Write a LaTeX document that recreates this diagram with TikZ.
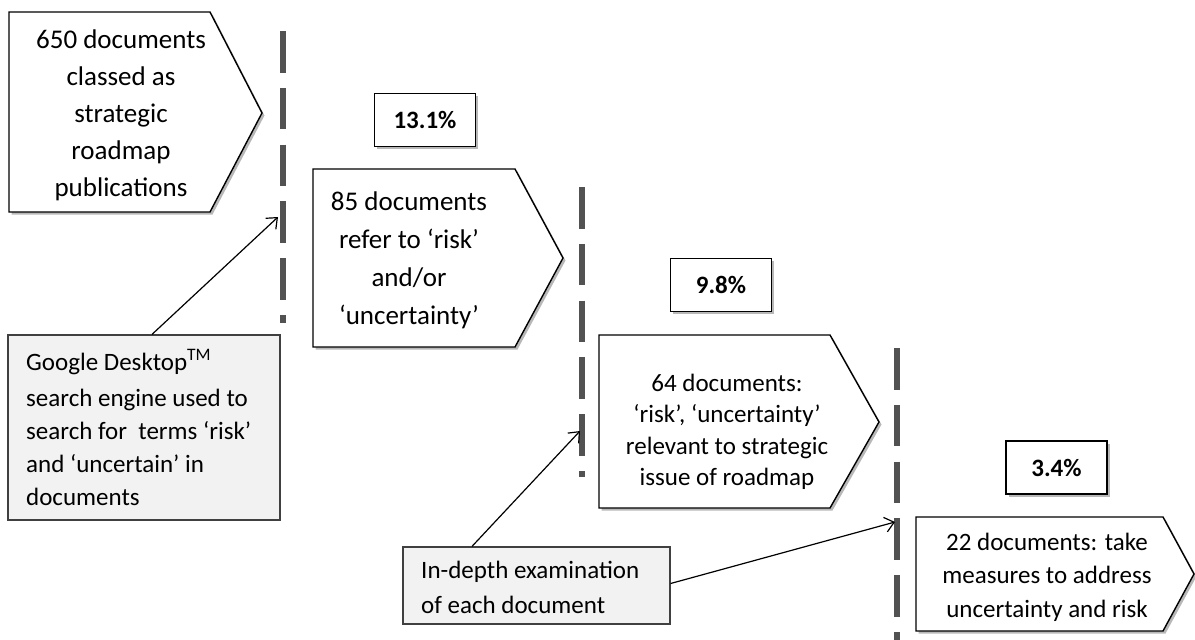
\documentclass[tikz,border=0pt]{standalone}
\usepackage{fontspec}
\setmainfont{Carlito}
\usetikzlibrary{arrows.meta,shadows}
\begin{document}
\begin{tikzpicture}[x=1pt,y=-1pt,
  softshadow/.style={drop shadow={shadow xshift=2.5pt, shadow yshift=-2.5pt, fill=black, opacity=0.28}},
  chevron/.style={draw=black, line width=1.4pt, fill=white, line join=miter, softshadow},
  chevtext/.style={align=center, anchor=base, inner sep=0pt},
  bigtext/.style={font=\fontsize{27}{37}\selectfont},
  midtext/.style={font=\fontsize{25}{31.5}\selectfont},
  pctbox/.style={draw=black, line width=1.6pt, fill=white, minimum width=101pt,
    minimum height=53pt, inner sep=0pt, font=\fontsize{25}{30}\selectfont\bfseries, softshadow},
  notebox/.style={draw=black!75, line width=1.2pt, fill=black!5, inner sep=0pt},
  notetext/.style={align=left, anchor=base west, inner sep=0pt},
  cutline/.style={draw=black!68, line width=5.5pt, dash pattern=on 41.5pt off 15.3pt},
  conn/.style={line width=1.2pt, -{Straight Barb[length=9pt,width=15pt,line width=1.2pt]}},
]
\useasboundingbox (0,0) rectangle (1195,640);

% stage chevrons (text nodes are placed by the baseline of their last line)
\draw[chevron] (9,12) -- (210,12) -- (262,113) -- (210,212) -- (9,212) -- cycle;
\draw[chevron] (313,169) -- (515,169) -- (563,258) -- (515,347) -- (313,347) -- cycle;
\draw[chevron] (599,335) -- (830,335) -- (879,422) -- (830,508) -- (599,508) -- cycle;
\draw[chevron] (916,517) -- (1163,517) -- (1194,574) -- (1163,631) -- (916,631) -- cycle;

\node[chevtext, bigtext] (s1) at (121,196) {650 documents\\classed as\\strategic\\roadmap\\publications};
\node[chevtext, font=\fontsize{27}{37.7}\selectfont] (s2) at (409,324) {85 documents\\refer to ‘risk’\\and/or\\‘uncertainty’};
\node[chevtext, midtext] (s3) at (727,485.5) {64 documents:\\‘risk’, ‘uncertainty’\\relevant to strategic\\issue of roadmap};
\node[chevtext, font=\fontsize{25}{33.5}\selectfont] (s4) at (1047,617) {22 documents: take\\measures to address\\uncertainty and risk};

% percentage boxes
\node[pctbox] (p1) at (425,120) {13.1\%};
\node[pctbox] (p2) at (721,285) {9.8\%};
\node[pctbox] (p3) at (1056.5,467.5) {3.4\%};

% filter boundaries
\draw[cutline] (283,31) -- (283,323);
\draw[cutline] (582,187) -- (582,477);
\draw[cutline] (897,348) -- (897,641);

% method notes
\node[notebox, minimum width=272pt, minimum height=185pt] (g1) at (144,427.5) {};
\node[notetext, font=\fontsize{25}{33}\selectfont] (n1) at (26,505)
  {Google Desktop\textsuperscript{TM}\\[3pt]search engine used to\\search for\ \ terms ‘risk’\\and ‘uncertain’ in\\documents};
\node[notebox, minimum width=267pt, minimum height=77pt] (g2) at (536.5,585.5) {};
\node[notetext, font=\fontsize{25}{35}\selectfont] (n2) at (421,613)
  {In-depth examination\\of each document};

% connectors
\coordinate (tip1) at (278,217);
\coordinate (tip2) at (580,431);
\coordinate (tip3) at (895,522);
\draw[conn] ([xshift=8pt]g1.north) -- (tip1);
\draw[conn] ([xshift=-64.5pt]g2.north) -- (tip2);
\draw[conn] ([yshift=2pt]g2.east) -- (tip3);
\end{tikzpicture}
\end{document}
